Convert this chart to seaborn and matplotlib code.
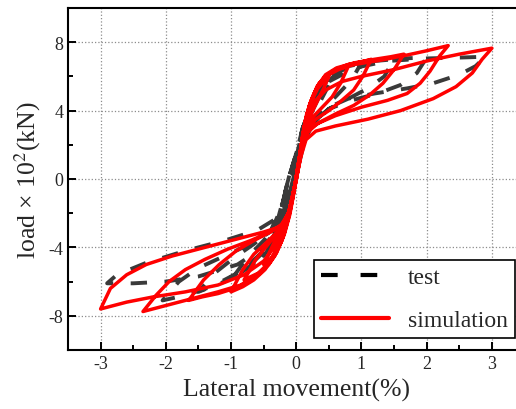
import pandas as pd
import matplotlib.pyplot as plt
import seaborn as sns
from matplotlib.lines import Line2D
from matplotlib.ticker import AutoMinorLocator

# hysteresis paths, one list of (drift %, load x100 kN) per cycle
sim_c1 = [(0.0, 0.0), (0.05, 1.2), (0.1, 2.6), (0.16, 3.7), (0.24, 4.6), (0.33, 5.3), (0.42, 5.7), (0.5, 6.0),
          (0.42, 5.3), (0.33, 4.6), (0.24, 3.9), (0.16, 3.2), (0.1, 2.4), (0.05, 1.2), (0.0, 0.0), (-0.05, -1.1),
          (-0.1, -2.1), (-0.18, -3.2), (-0.27, -4.0), (-0.38, -4.6), (-0.5, -5.0),
          (-0.4, -4.2), (-0.3, -3.4), (-0.2, -2.8), (-0.12, -2.2), (-0.05, -1.0), (0.0, 0.1), (0.05, 1.3)]
sim_c2 = [(0.1, 2.6), (0.16, 3.8), (0.25, 4.8), (0.35, 5.6), (0.5, 6.1), (0.65, 6.4), (0.8, 6.6),
          (0.68, 5.6), (0.55, 4.8), (0.4, 4.2), (0.25, 3.6), (0.14, 2.9), (0.08, 1.8), (0.0, 0.0), (-0.06, -1.2),
          (-0.12, -2.3), (-0.2, -3.4), (-0.3, -4.3), (-0.42, -5.0), (-0.58, -5.5), (-0.8, -5.9),
          (-0.62, -4.7), (-0.45, -3.9), (-0.3, -3.2), (-0.18, -2.7), (-0.1, -2.0), (-0.04, -0.8), (0.02, 0.5)]
sim_c3 = [(0.08, 2.0), (0.14, 3.4), (0.22, 4.5), (0.32, 5.4), (0.45, 6.0), (0.6, 6.4), (0.8, 6.7), (1.0, 6.85),
          (1.15, 7.0), (1.02, 6.0), (0.88, 5.2), (0.7, 4.6), (0.5, 4.0), (0.3, 3.5), (0.16, 2.9), (0.08, 1.8),
          (0.0, 0.0), (-0.07, -1.3), (-0.13, -2.4), (-0.22, -3.6), (-0.33, -4.5), (-0.48, -5.3), (-0.65, -5.9),
          (-0.82, -6.3), (-1.0, -6.6), (-0.82, -5.3), (-0.65, -4.4), (-0.48, -3.8), (-0.32, -3.2), (-0.2, -2.7),
          (-0.1, -1.9), (-0.03, -0.6), (0.03, 0.8)]
sim_c4 = [(0.08, 2.0), (0.14, 3.4), (0.22, 4.5), (0.32, 5.4), (0.45, 6.1), (0.62, 6.5), (0.9, 6.8), (1.2, 7.0),
          (1.45, 7.15), (1.65, 7.3), (1.5, 6.4), (1.33, 5.6), (1.12, 4.9), (0.88, 4.3), (0.6, 3.8), (0.35, 3.3),
          (0.18, 2.8), (0.09, 1.8), (0.0, 0.0), (-0.07, -1.3), (-0.14, -2.4), (-0.24, -3.7), (-0.36, -4.6),
          (-0.52, -5.4), (-0.72, -6.0), (-0.95, -6.4), (-1.2, -6.7), (-1.45, -6.9), (-1.65, -7.1),
          (-1.42, -5.9), (-1.18, -5.0), (-0.92, -4.2), (-0.65, -3.6), (-0.4, -3.1), (-0.22, -2.7), (-0.1, -1.9),
          (-0.03, -0.6), (0.03, 0.8)]
sim_c5 = [(0.08, 2.0), (0.13, 3.2), (0.2, 4.3), (0.3, 5.2), (0.42, 5.9), (0.6, 6.4), (0.9, 6.7), (1.3, 6.95),
          (1.7, 7.25), (2.0, 7.5), (2.33, 7.8), (2.2, 7.2), (2.05, 6.3), (1.9, 5.6), (1.7, 5.0), (1.4, 4.6),
          (1.0, 4.2), (0.6, 3.7), (0.3, 3.2), (0.15, 2.6), (0.08, 1.6), (0.0, 0.0), (-0.08, -1.4), (-0.15, -2.5),
          (-0.26, -3.8), (-0.4, -4.8), (-0.6, -5.6), (-0.85, -6.2), (-1.2, -6.6), (-1.6, -7.0), (-2.0, -7.4),
          (-2.35, -7.75), (-2.15, -6.8), (-1.95, -6.0), (-1.7, -5.3), (-1.4, -4.7), (-1.05, -4.1), (-0.7, -3.6),
          (-0.4, -3.1), (-0.2, -2.6), (-0.1, -1.8), (-0.03, -0.6), (0.03, 0.8)]
sim_c6 = [(0.08, 2.0), (0.13, 3.0), (0.2, 3.9), (0.3, 4.6), (0.45, 5.2), (0.7, 5.7), (1.0, 6.0), (1.5, 6.4),
          (2.0, 6.9), (2.5, 7.3), (3.0, 7.65), (2.85, 7.0), (2.7, 6.2), (2.45, 5.4), (2.1, 4.7), (1.6, 4.0),
          (1.1, 3.5), (0.6, 3.1), (0.3, 2.8), (0.15, 2.3), (0.07, 1.3), (0.0, 0.0), (-0.08, -1.4), (-0.16, -2.6),
          (-0.3, -3.8), (-0.5, -4.8), (-0.8, -5.6), (-1.2, -6.2), (-1.7, -6.6), (-2.2, -6.9), (-2.6, -7.2),
          (-3.0, -7.6), (-2.85, -6.4), (-2.6, -5.6), (-2.3, -5.0), (-1.9, -4.5), (-1.4, -4.0), (-0.9, -3.5),
          (-0.5, -3.1), (-0.25, -2.8), (-0.12, -2.0), (-0.04, -0.7), (0.0, 0.0)]

test_c1 = [(0.0, 0.0), (0.1, 2.2), (0.2, 3.6), (0.35, 4.8), (0.5, 5.5), (0.35, 4.4), (0.2, 3.2), (0.1, 1.8),
           (0.0, 0.2), (-0.1, -1.4), (-0.2, -2.6), (-0.35, -3.7), (-0.5, -4.5), (-0.35, -3.4), (-0.25, -2.4),
           (-0.18, -1.0), (-0.08, 0.5)]
test_c2 = [(0.05, 1.8), (0.15, 3.4), (0.3, 4.8), (0.5, 5.8), (0.75, 6.4), (1.0, 6.8), (0.85, 5.8), (0.6, 4.8),
           (0.35, 3.9), (0.15, 2.8), (0.03, 1.0), (-0.08, -0.8), (-0.2, -2.3), (-0.35, -3.6), (-0.6, -4.8),
           (-1.0, -5.9), (-0.75, -4.6), (-0.5, -3.6), (-0.3, -2.6), (-0.2, -1.2), (-0.1, 0.3)]
test_c3 = [(0.02, 1.6), (0.12, 3.2), (0.28, 4.7), (0.5, 5.9), (0.8, 6.6), (1.2, 6.9), (1.5, 7.0), (1.35, 6.0),
           (1.1, 5.3), (0.8, 4.7), (0.5, 4.1), (0.25, 3.3), (0.1, 2.2), (-0.02, 0.6), (-0.12, -1.0),
           (-0.22, -2.5), (-0.4, -3.9), (-0.7, -5.0), (-1.1, -6.0), (-1.5, -6.6), (-1.25, -5.5), (-0.95, -4.6),
           (-0.65, -3.8), (-0.38, -3.0), (-0.22, -1.6), (-0.12, 0.0)]
test_c4 = [(0.0, 1.5), (0.1, 3.0), (0.25, 4.5), (0.5, 5.9), (0.8, 6.6), (1.2, 6.95), (1.6, 7.05), (2.0, 7.1),
           (1.85, 6.2), (1.6, 5.5), (1.25, 5.0), (0.85, 4.6), (0.5, 4.1), (0.25, 3.2), (0.1, 2.0), (-0.02, 0.4),
           (-0.13, -1.2), (-0.25, -2.7), (-0.45, -4.0), (-0.8, -5.3), (-1.3, -6.3), (-1.7, -6.8), (-2.05, -7.1),
           (-1.8, -6.0), (-1.5, -5.2), (-1.1, -4.5), (-0.7, -3.8), (-0.4, -3.1), (-0.22, -1.6), (-0.12, 0.0)]
test_c5 = [(0.0, 1.5), (0.1, 3.0), (0.25, 4.4), (0.5, 5.7), (0.9, 6.5), (1.4, 6.9), (2.0, 7.05), (2.5, 7.1),
           (2.9, 7.15), (2.75, 6.6), (2.5, 6.1), (2.1, 5.6), (1.7, 5.3), (1.2, 5.0), (0.8, 4.7), (0.5, 4.2),
           (0.25, 3.2), (0.1, 2.0), (-0.02, 0.4), (-0.13, -1.2), (-0.28, -2.8), (-0.5, -4.0), (-0.9, -5.0),
           (-1.5, -5.7), (-2.0, -6.0), (-2.5, -6.1), (-2.9, -6.1), (-2.75, -5.6), (-2.3, -4.9), (-1.7, -4.2),
           (-1.1, -3.6), (-0.6, -3.0), (-0.3, -2.3), (-0.15, -0.8), (-0.05, 0.5)]

x_ticks = [-3, -2, -1, 0, 1, 2, 3]
y_ticks = [-8, -4, 0, 4, 8]


def to_frame(cycles, name):
    pts = [p for c in cycles for p in c]
    df = pd.DataFrame(pts, columns=["drift", "load"])
    df["series"] = name
    return df


df = pd.concat([to_frame([test_c1, test_c2, test_c3, test_c4, test_c5], "test"),
                to_frame([sim_c1, sim_c2, sim_c3, sim_c4, sim_c5, sim_c6], "simulation")],
               ignore_index=True)

sns.set_style("ticks")
plt.rcParams["font.family"] = ["Liberation Serif", "DejaVu Serif"]
plt.rcParams["mathtext.fontset"] = "stix"
plt.rcParams["axes.unicode_minus"] = False

fig = plt.figure(figsize=(5.16, 4.10), dpi=100)
ax = fig.add_axes([68 / 516, 59 / 410, 456.5 / 516, 342 / 410])

sns.lineplot(data=df[df.series == "test"], x="drift", y="load", sort=False, estimator=None,
             color="#3a3a3a", lw=2.8, ax=ax)
ax.lines[-1].set_dashes([4.2, 4.5])
sns.lineplot(data=df[df.series == "simulation"], x="drift", y="load", sort=False, estimator=None,
             color="#ff0000", lw=2.5, ax=ax)

ax.set_xlim(-3.5, 3.5)
ax.set_ylim(-10, 10)
ax.set_xticks(x_ticks)
ax.set_yticks(y_ticks)
ax.xaxis.set_minor_locator(AutoMinorLocator(2))
ax.yaxis.set_minor_locator(AutoMinorLocator(2))
ax.tick_params(which="both", direction="in", width=1.4, labelsize=13, color="black")
ax.tick_params(which="major", length=6)
ax.tick_params(which="minor", length=3.5)
ax.grid(True, which="major", ls=":", color="0.55", lw=0.9)
for s in ax.spines.values():
    s.set_linewidth(1.5)
    s.set_color("black")

ax.set_xlabel("Lateral movement(%)", fontsize=18.5)
ax.set_ylabel("load \u00d7 10$^2$(kN)", fontsize=18.5)

handles = [Line2D([], [], color="black", lw=3, dashes=[4, 5.5]),
           Line2D([], [], color="#ff0000", lw=3)]
leg = ax.legend(handles, ["test", "simulation"], loc="lower right", bbox_to_anchor=(0.998, 0.173),
                bbox_transform=fig.transFigure, fontsize=17, frameon=True, fancybox=False,
                edgecolor="black", handlelength=2.9, handletextpad=0.8, labelspacing=0.9,
                borderpad=0.3, borderaxespad=0)
leg.get_frame().set_linewidth(1.2)
leg.get_frame().set_alpha(1)

fig.savefig("out.png", dpi=100)
